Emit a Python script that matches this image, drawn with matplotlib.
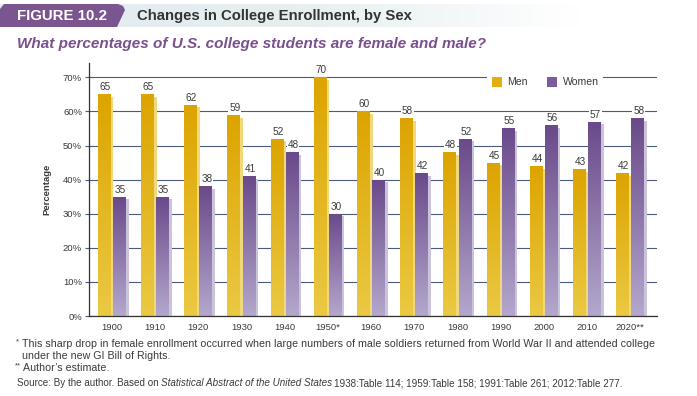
import matplotlib.pyplot as plt
import numpy as np
from matplotlib.patches import Patch, Polygon
from matplotlib.colors import LinearSegmentedColormap

plt.rcParams['font.family'] = ['Liberation Sans', 'DejaVu Sans']

years = ['1900', '1910', '1920', '1930', '1940', '1950*', '1960',
         '1970', '1980', '1990', '2000', '2010', '2020**']
men = [65, 65, 62, 59, 52, 70, 60, 58, 48, 45, 44, 43, 42]
women = [35, 35, 38, 41, 48, 30, 40, 42, 52, 55, 56, 57, 58]
yticks = [0, 10, 20, 30, 40, 50, 60, 70]

gold_top, gold_bot, gold_side = '#dca400', '#ebc943', '#f0d97c'
purp_top, purp_bot, purp_side = '#6a4a8a', '#b3a7cc', '#cbc2dc'
grid_col = '#4b5b7b'
txt_col = '#3a3a3a'

fig = plt.figure(figsize=(6.97, 3.96), dpi=100)

# header / footer drawn on a pixel-space background axes
bg = fig.add_axes([0, 0, 1, 1], zorder=0)
bg.axis('off')

band = np.linspace(0, 1, 256).reshape(1, -1)
band_cmap = LinearSegmentedColormap.from_list('band', ['#e2ebee', '#e6eef0', '#ffffff'])
bg.imshow(band, cmap=band_cmap, extent=[0, 580, 27, 4], aspect='auto', zorder=1)
bg.add_patch(Polygon([[0, 27], [0, 9], [4, 4], [118, 4], [123, 6], [125, 10], [117, 27]],
                     closed=True, facecolor='#7b5590', edgecolor='none', zorder=2))
bg.text(17, 16, 'FIGURE 10.2', color='white', fontsize=10.8, fontweight='bold',
        va='center', ha='left', zorder=3)
bg.text(137, 16, 'Changes in College Enrollment, by Sex', color='#333333', fontsize=10.7,
        fontweight='bold', va='center', ha='left', zorder=3)
bg.text(17, 44, 'What percentages of U.S. college students are female and male?',
        color='#7a4f8e', fontsize=11, fontweight='bold', style='italic',
        va='center', ha='left', zorder=3)
bg.set_xlim(0, 697)
bg.set_ylim(396, 0)

ax = fig.add_axes([89 / 697, 1 - 316 / 396, (657 - 89) / 697, (316 - 63) / 396], zorder=2)
ax.patch.set_alpha(0)

x = np.arange(len(years))
w = 0.30
off = 0.175


def grad_bars(xpos, vals, top, bot, side):
    cmap = LinearSegmentedColormap.from_list('g', [bot, top])
    ax.bar(xpos + 0.06, np.array(vals) - 0.8, w, color=side, zorder=2)
    bars = ax.bar(xpos, vals, w, color=top, zorder=3)
    g = np.linspace(0, 1, 100).reshape(-1, 1)
    for b in bars:
        x0, y0 = b.get_x(), b.get_y()
        im = ax.imshow(g, cmap=cmap, origin='lower', aspect='auto', zorder=3.5,
                       extent=[x0, x0 + b.get_width(), y0, y0 + b.get_height()],
                       vmin=0, vmax=1)
        im.set_clip_path(b)
    return bars


mb = grad_bars(x - off, men, gold_top, gold_bot, gold_side)
wb = grad_bars(x + off, women, purp_top, purp_bot, purp_side)

for bars, vals in [(mb, men), (wb, women)]:
    for b, v in zip(bars, vals):
        ax.text(b.get_x() + b.get_width() / 2 + 0.02, v + 0.6, str(v), ha='center',
                va='bottom', fontsize=7.2, color=txt_col, zorder=5,
                bbox=dict(facecolor='white', edgecolor='none', pad=0.6))

ax.set_xlim(-0.53, 12.62)
ax.set_ylim(0, 74.2)
ax.set_yticks(yticks)
ax.set_yticklabels([f'{t}%' for t in yticks], fontsize=6.8, color=txt_col)
ax.set_xticks(x)
ax.set_xticklabels(years, fontsize=6.8, color=txt_col)
ax.tick_params(axis='x', length=0, pad=5)
ax.tick_params(axis='y', length=3, width=0.8, color=grid_col, pad=2)
ax.grid(axis='y', color=grid_col, linewidth=0.8, zorder=1)
ax.set_axisbelow(True)
for s in ['top', 'right']:
    ax.spines[s].set_visible(False)
for s in ['left', 'bottom']:
    ax.spines[s].set_color('#333333')
    ax.spines[s].set_linewidth(0.9)
ax.spines['left'].set_zorder(6)
ax.spines['bottom'].set_zorder(6)

ax.set_ylabel('Percentage', fontsize=6.8, color=txt_col, fontweight='bold', labelpad=8)

handles = [Patch(facecolor='#e3ae12', edgecolor='none', label='Men'),
           Patch(facecolor='#7b5b9a', edgecolor='none', label='Women')]
leg = ax.legend(handles=handles, ncol=2, loc='center', bbox_to_anchor=(0.803, 0.925),
                frameon=True, facecolor='white', edgecolor='none', framealpha=1,
                fontsize=7.6, handlelength=1.0, handleheight=1.1, handletextpad=0.5,
                columnspacing=1.8, borderpad=0.4, fancybox=False)
for t in leg.get_texts():
    t.set_color(txt_col)
leg.set_zorder(7)

# footnotes
fs = 7.7
bg.text(16, 342, '*', fontsize=5.5, color=txt_col, ha='left', va='center')
bg.text(22, 344, 'This sharp drop in female enrollment occurred when large numbers of male soldiers '
        'returned from World War II and attended college', fontsize=fs, color=txt_col,
        ha='left', va='center')
bg.text(22, 356, 'under the new GI Bill of Rights.', fontsize=fs, color=txt_col, ha='left', va='center')
bg.text(15, 366, '**', fontsize=5.5, color=txt_col, ha='left', va='center')
bg.text(23, 368, 'Author\u2019s estimate.', fontsize=fs, color=txt_col, ha='left', va='center')

fig.canvas.draw()
r = fig.canvas.get_renderer()
parts = [('Source: By the author. Based on', 'normal'),
         ('Statistical Abstract of the United States', 'italic'),
         ('1938:Table 114; 1959:Table 158; 1991:Table 261; 2012:Table 277.', 'normal')]
xpix = 17
for s, st in parts:
    t = bg.text(xpix, 383, s, fontsize=7.1, color=txt_col, style=st, ha='left', va='center')
    ext = t.get_window_extent(renderer=r)
    xpix += ext.width + (1.5 if st == 'italic' else 2.5)

fig.savefig('out.png', dpi=100)
